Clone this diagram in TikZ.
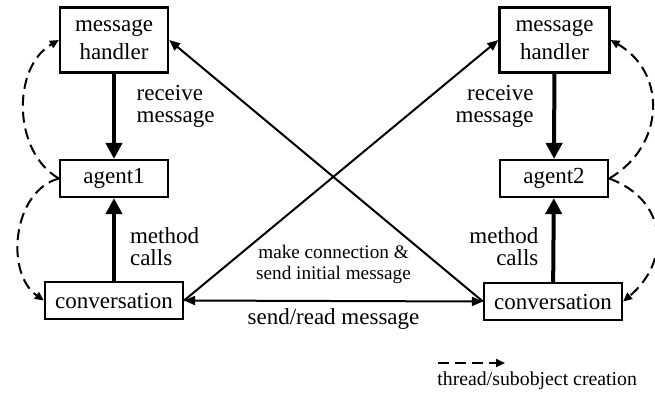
\documentclass[tikz,border=0pt]{standalone}
\usepackage{fontspec}
\setmainfont{Liberation Serif}
\usetikzlibrary{arrows.meta,positioning}

\begin{document}
\begin{tikzpicture}[x=0.5pt, y=-0.5pt,
    box/.style = {draw, line width=1.1pt, inner sep=0pt, minimum height=18.5pt,
      align=center, font=\fontsize{11.5}{14}\selectfont},
    lbl/.style = {font=\fontsize{11.5}{11}\selectfont},
    small/.style = {font=\fontsize{9.6}{10.5}\selectfont},
    thin/.style = {line width=1pt, >={Triangle[length=5.5pt, width=4.5pt]}},
    heavy/.style = {line width=2pt, >={Triangle[length=8pt, width=8pt]}},
    spawn/.style = {line width=1pt, dash pattern=on 5.5pt off 3pt,
      >={Triangle[length=4.5pt, width=4pt]}}]
  \useasboundingbox (0,0) rectangle (655,393);
  \node [box, minimum width=54pt, minimum height=32.5pt] (LH) at (114, 40) {message\\handler};
  \node [box, minimum width=54pt] (LA) at (114, 178.5) {agent1};
  \node [box, minimum width=69pt] (LC) at (114, 300.5) {conversation};
  \node [box, minimum width=55pt, minimum height=32.5pt] (RH) at (554.5, 40) {message\\handler};
  \node [box, minimum width=54pt] (RA) at (554, 178.5) {agent2};
  \node [box, minimum width=69pt] (RC) at (553, 301.5) {conversation};
  \draw [heavy, ->] (LH) -- node [lbl, right=7pt, yshift=5pt, align=left] (LR) {receive\\message} (LA);
  \draw [heavy, ->] (LC) -- node [lbl, right=3.7pt, yshift=-3.4pt, align=left] (LM) {method\\calls} (LA);
  \draw [heavy, ->] (RH) -- node [lbl, left=6pt, yshift=5pt, align=right] (RR) {receive\\message} (RA);
  \draw [heavy, ->] (RC) -- node [lbl, left=3.2pt, yshift=-3.4pt, align=right] (RM) {method\\calls} (RA);
  \draw [thin, ->] (LC.east) -- (RH.west);
  \draw [thin, ->] (RC.west) -- (LH.east);
  \draw [thin, <->] (LC.east) -- node [small, above=5pt, align=center] (MC) {make connection \&\\send initial message}
    node [lbl, below] (SR) {send/read message} (RC.west);
  \draw [spawn, ->] (LA.west) to [out=150, in=210] (LH.west);
  \draw [spawn, ->] (LA.west) to [out=195, in=145] (LC.west);
  \draw [spawn, ->] (RA.east) to [out=30, in=-30, looseness=1.2] (RH.east);
  \draw [spawn, ->] (RA.east) to [out=-20, in=40, looseness=1.3] (RC.east);
  \coordinate (K1) at (438, 363);
  \coordinate (K2) at (505, 363);
  \draw [spawn, ->] (K1) -- (K2);
  \node [small, anchor=base west, inner sep=0pt, font=\fontsize{9.9}{11}\selectfont] (KT) at (437, 385) {thread/subobject creation};
\end{tikzpicture}
\end{document}
